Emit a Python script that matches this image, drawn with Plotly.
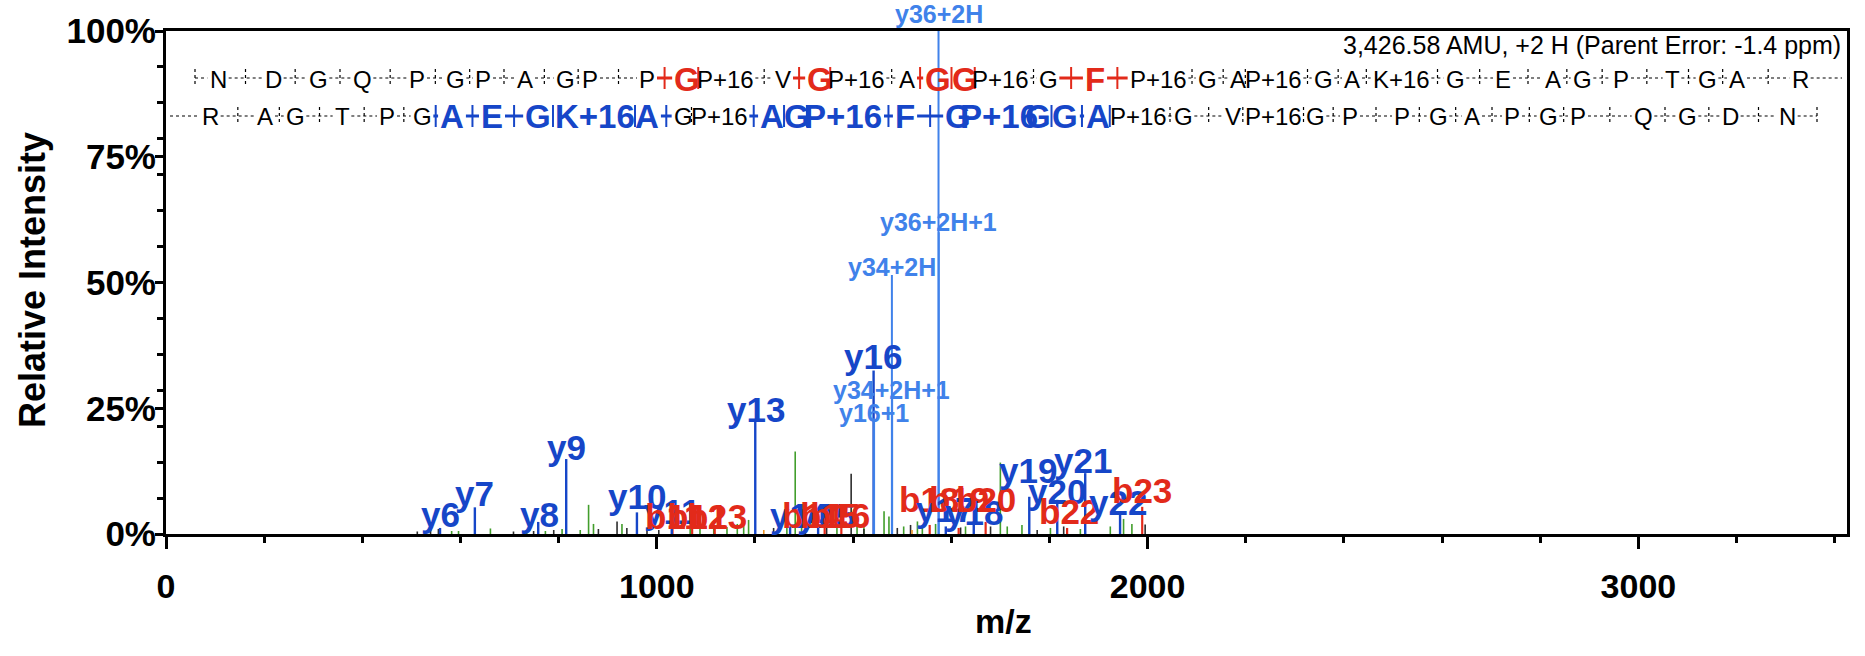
import plotly.graph_objects as go

# ---------------- peptide / spectrum data ----------------
PARENT_TEXT = "3,426.58 AMU, +2 H (Parent Error: -1.4 ppm)"

# y-ions (singly charged)
y_ion_mz = [558.3, 629.3, 758.4, 815.4, 959.5, 1030.5, 1200.6, 1271.6, 1328.7,
            1441.7, 1588.8, 1645.8, 1758.9, 1815.9, 1872.9, 1943.9]
y_ion_int = [1.2, 5.3, 2.4, 14.9, 4.3, 2.5, 22.5, 1.5, 2.0,
             32.5, 1.5, 2.5, 7.4, 6.8, 12.1, 4.2]

# multiply-charged / isotope y-ions
y_multi_mz = [1442.7, 1479.0, 1479.5, 1574.0, 1574.5]
y_multi_int = [23.0, 51.5, 27.0, 100.0, 60.0]

# b-ions
b_ion_mz = [1032, 1072, 1118, 1302, 1342, 1376, 1556, 1615, 1670, 1836, 1989]
b_ion_int = [1.8, 1.5, 1.2, 2.4, 2.0, 1.5, 1.8, 1.2, 2.4, 1.2, 5.4]

# other matched fragments
other_mz = [582, 596, 661, 735, 773, 807, 844, 861, 871, 929, 1068, 1088, 1116,
            1143, 1164, 1177, 1187, 1265, 1282, 1295, 1367, 1408, 1422, 1463,
            1473, 1503, 1531, 1541, 1568, 1629, 1700, 1714, 1744, 1802, 1863,
            1924, 1951, 1968]
other_int = [0.6, 0.6, 1.1, 0.7, 0.6, 1.0, 0.8, 5.8, 2.0, 2.0, 1.0, 1.2, 1.6,
             1.4, 2.0, 2.6, 2.8, 2.5, 16.4, 3.0, 1.2, 1.5, 1.5, 4.5,
             3.5, 1.5, 2.5, 1.8, 2.0, 1.5, 14.2, 1.5, 1.8, 1.2, 1.0,
             1.5, 3.0, 2.0]

# unmatched peaks
unmatched_mz = [512, 539, 555, 708, 749, 790, 881, 919, 939, 980, 1004, 1238,
                1346, 1396, 1422, 1490, 1517, 1619, 1680, 1775, 1829, 1995]
unmatched_int = [0.5, 0.8, 1.0, 0.5, 0.6, 0.8, 1.0, 2.5, 1.2, 0.8, 0.8, 1.2,
                 1.5, 12.0, 1.0, 1.2, 1.8, 1.3, 1.5, 0.8, 1.5, 1.9]

neutral_mz = [1218, 1520]
neutral_int = [0.8, 0.8]

# peak labels: text, label m/z, label level (% intensity)
ion_label_text = ["y6", "y7", "y8", "y9", "y10", "y11", "b11", "b12", "b13", "y13",
                  "y14", "b14", "y15", "b15", "b16", "y16", "b18", "y17", "b19",
                  "y18", "b20", "y19", "y20", "y21", "b22", "y22", "b23"]
ion_label_mz = [559, 629, 760, 816, 959, 1030, 1036, 1082, 1123, 1202,
                1290, 1318, 1345, 1352, 1374, 1441, 1554, 1588, 1615,
                1646, 1670, 1757, 1816, 1869, 1840, 1940, 1989]
ion_label_lvl = [3.8, 8.0, 3.8, 17.1, 7.4, 4.4, 3.4, 3.4, 3.4, 24.7,
                 3.6, 3.6, 3.6, 3.6, 3.6, 35.2, 6.8, 4.8, 6.8,
                 4.2, 6.8, 12.7, 8.4, 14.7, 4.4, 6.2, 8.7]

# base peak label sits above the frame; the rest sit inside
multi_label_text = ["y36+2H+1", "y34+2H", "y34+2H+1", "y16+1"]
multi_label_mz = [1574, 1479, 1479, 1443]
multi_label_lvl = [62.0, 53.1, 28.6, 24.1]
base_peak_label = "y36+2H"
base_peak_mz = 1574

# sequence, N->C (b series) and C->N (y series)
b_row = ["N", "D", "G", "Q", "P", "G", "P", "A", "G", "P", "P", "G", "P+16", "V",
         "G", "P+16", "A", "G", "G", "P+16", "G", "F", "P+16", "G", "A", "P+16",
         "G", "A", "K+16", "G", "E", "A", "G", "P", "T", "G", "A", "R"]
b_row_hits = [11, 14, 17, 18, 21]
y_row = list(reversed(b_row))
y_row_hits = [6, 7, 8, 9, 10, 13, 14, 15, 16, 17, 18, 19, 20, 21]

# ---------------- layout constants ----------------
W, H = 1865, 656
ML, MR, MT, MB = 166, 18, 31, 122
PW, PH = W - ML - MR, H - MT - MB
X_MAX = 3425

FONT = "Liberation Sans, Arial, sans-serif"
BLUE = "rgb(22,70,200)"
LBLUE = "rgb(64,130,234)"
RED = "rgb(226,42,26)"
GREEN = "rgb(66,158,44)"
DARK = "rgb(45,45,45)"
ORANGE = "rgb(240,150,40)"

# residue x centres (pixels) for the two sequence rows
b_row_px = [218, 273, 318, 362, 417, 455, 483, 525, 565, 590, 647, 687, 725, 783,
            820, 856, 907, 938, 965, 1000, 1048, 1095, 1158, 1207, 1238, 1273,
            1323, 1352, 1401, 1455, 1503, 1553, 1582, 1621, 1672, 1707, 1737, 1800]
y_row_px = [210, 265, 295, 342, 387, 422, 452, 492, 538, 595, 647, 683, 719, 772,
            797, 843, 905, 958, 999, 1038, 1065, 1098, 1138, 1183, 1233, 1273,
            1315, 1350, 1402, 1438, 1472, 1512, 1548, 1578, 1643, 1687, 1730, 1787]
B_ROW_Y, Y_ROW_Y = 78, 116
RES_SIZE, HIT_SIZE = 24, 33


def px_x(px):
    return (px - ML) / PW


def px_y(py):
    return (H - MB - py) / PH


REG_W = {'A': .667, 'D': .722, 'E': .667, 'F': .611, 'G': .778, 'K': .667, 'N': .722,
         'P': .667, 'Q': .778, 'R': .722, 'T': .611, 'V': .667, '+': .584, '1': .556, '6': .556}
BOLD_W = dict(REG_W, A=.722, K=.722)


def text_w(s, size, bold):
    tab = BOLD_W if bold else REG_W
    return sum(tab[c] for c in s) * size


def sticks(mz, inten):
    xs, ys = [], []
    for m, v in zip(mz, inten):
        xs += [m, m, None]
        ys += [0, v, None]
    return xs, ys


fig = go.Figure()
for mz, inten, col, lw in [
    (other_mz, other_int, GREEN, 1.6),
    (unmatched_mz, unmatched_int, DARK, 1.6),
    (neutral_mz, neutral_int, ORANGE, 1.6),
    (b_ion_mz, b_ion_int, RED, 2.2),
    (y_ion_mz, y_ion_int, BLUE, 2.4),
    (y_multi_mz, y_multi_int, LBLUE, 2.0),
]:
    xs, ys = sticks(mz, inten)
    fig.add_trace(go.Scatter(x=xs, y=ys, mode="lines", line=dict(color=col, width=lw),
                             hoverinfo="skip", showlegend=False))

annotations = []
shapes = []

# ion labels
for t, m, lv in zip(ion_label_text, ion_label_mz, ion_label_lvl):
    annotations.append(dict(text=t, x=m, y=lv, xref="x", yref="y", showarrow=False,
                            xanchor="center", yanchor="middle",
                            font=dict(family=FONT, size=35, weight="bold",
                                      color=RED if t.startswith("b") else BLUE)))
for t, m, lv in zip(multi_label_text, multi_label_mz, multi_label_lvl):
    annotations.append(dict(text=t, x=m, y=lv, xref="x", yref="y", showarrow=False,
                            xanchor="center", yanchor="middle",
                            font=dict(family=FONT, size=25, weight="bold", color=LBLUE)))
annotations.append(dict(text=base_peak_label, x=base_peak_mz, y=1, xref="x", yref="paper",
                        showarrow=False, xanchor="center", yanchor="bottom", yshift=1,
                        font=dict(family=FONT, size=25, weight="bold", color=LBLUE)))


def hline(x0, x1, y, color, width, dash):
    shapes.append(dict(type="line", xref="paper", yref="paper",
                       x0=px_x(x0), x1=px_x(x1), y0=px_y(y), y1=px_y(y),
                       line=dict(color=color, width=width, dash=dash)))


def vtick(x, y, half, color, width, dash):
    shapes.append(dict(type="line", xref="paper", yref="paper",
                       x0=px_x(x), x1=px_x(x), y0=px_y(y - half), y1=px_y(y + half),
                       line=dict(color=color, width=width, dash=dash)))


def draw_row(res, xs, hits, row_y, hit_color, lead, trail):
    widths = []
    for i, (r, x) in enumerate(zip(res, xs)):
        h = i in hits
        size = HIT_SIZE if h else RES_SIZE
        widths.append(text_w(r, size, h))
        annotations.append(dict(text=r, x=px_x(x), y=px_y(row_y + 1), xref="paper", yref="paper",
                                showarrow=False, xanchor="center", yanchor="middle",
                                font=dict(family=FONT, size=size,
                                          weight="bold" if h else "normal",
                                          color=hit_color if h else "black")))
    for i in range(len(res) - 1):
        left = xs[i] + widths[i] / 2 + 2
        right = xs[i + 1] - widths[i + 1] / 2 - 2
        mid = (left + right) / 2
        colored = (i in hits) or (i + 1 in hits)
        if colored:
            if right - left > 3:
                hline(left, right, row_y, hit_color, 3, "solid")
            vtick(mid, row_y, 11, hit_color, 2, "solid")
        else:
            if right - left > 3:
                hline(left, right, row_y, "black", 1.2, "dot")
            vtick(mid, row_y, 9, "black", 1.2, "dot")
    # lead-in and trailing connectors
    first_left = xs[0] - widths[0] / 2 - 2
    last_right = xs[-1] + widths[-1] / 2 + 2
    hline(lead, first_left, row_y, "black", 1.2, "dot")
    if lead > 180:
        vtick(lead, row_y, 9, "black", 1.2, "dot")
    hline(last_right, trail, row_y, "black", 1.2, "dot")
    if trail < 1830:
        vtick(trail, row_y, 9, "black", 1.2, "dot")


draw_row(b_row, b_row_px, b_row_hits, B_ROW_Y, RED, 195, 1842)
draw_row(y_row, y_row_px, y_row_hits, Y_ROW_Y, BLUE, 170, 1817)

annotations.append(dict(text=PARENT_TEXT, x=px_x(1843), y=px_y(45), xref="paper", yref="paper",
                        showarrow=False, xanchor="right", yanchor="middle",
                        font=dict(family=FONT, size=25, color="black")))

# axis titles
annotations.append(dict(text="Relative Intensity", x=px_x(32), y=px_y(280), xref="paper",
                        yref="paper", showarrow=False, textangle=-90,
                        xanchor="center", yanchor="middle",
                        font=dict(family=FONT, size=36, weight="bold", color="black")))
annotations.append(dict(text="m/z", x=px_x(1003), y=px_y(621), xref="paper", yref="paper",
                        showarrow=False, xanchor="center", yanchor="middle",
                        font=dict(family=FONT, size=34, weight="bold", color="black")))

fig.update_layout(
    width=W, height=H,
    margin=dict(l=ML, r=MR, t=MT, b=MB, pad=0),
    paper_bgcolor="white", plot_bgcolor="white",
    showlegend=False,
    annotations=annotations,
    shapes=shapes,
)
fig.update_xaxes(
    range=[0, X_MAX], showgrid=False, zeroline=False,
    showline=True, linewidth=3, linecolor="black", mirror=True,
    ticks="outside", ticklen=12, tickwidth=3, tickcolor="black",
    tickvals=[0, 1000, 2000, 3000],
    minor=dict(dtick=200, tick0=0, ticks="outside", ticklen=6, tickwidth=2.5, tickcolor="black"),
    tickfont=dict(family=FONT, size=34, weight="bold", color="black"),
    ticklabelstandoff=8,
)
fig.update_yaxes(
    range=[0, 100], showgrid=False, zeroline=False,
    showline=True, linewidth=3, linecolor="black", mirror=True,
    ticks="outside", ticklen=8, tickwidth=3, tickcolor="black",
    tickvals=[0, 25, 50, 75, 100], ticktext=["0%", "25%", "50%", "75%", "100%"],
    minor=dict(dtick=100 / 14, tick0=0, ticks="outside", ticklen=6, tickwidth=2.5, tickcolor="black"),
    tickfont=dict(family=FONT, size=35, weight="bold", color="black"),
    ticklabelstandoff=-8,
)

fig.write_html("out.html")
